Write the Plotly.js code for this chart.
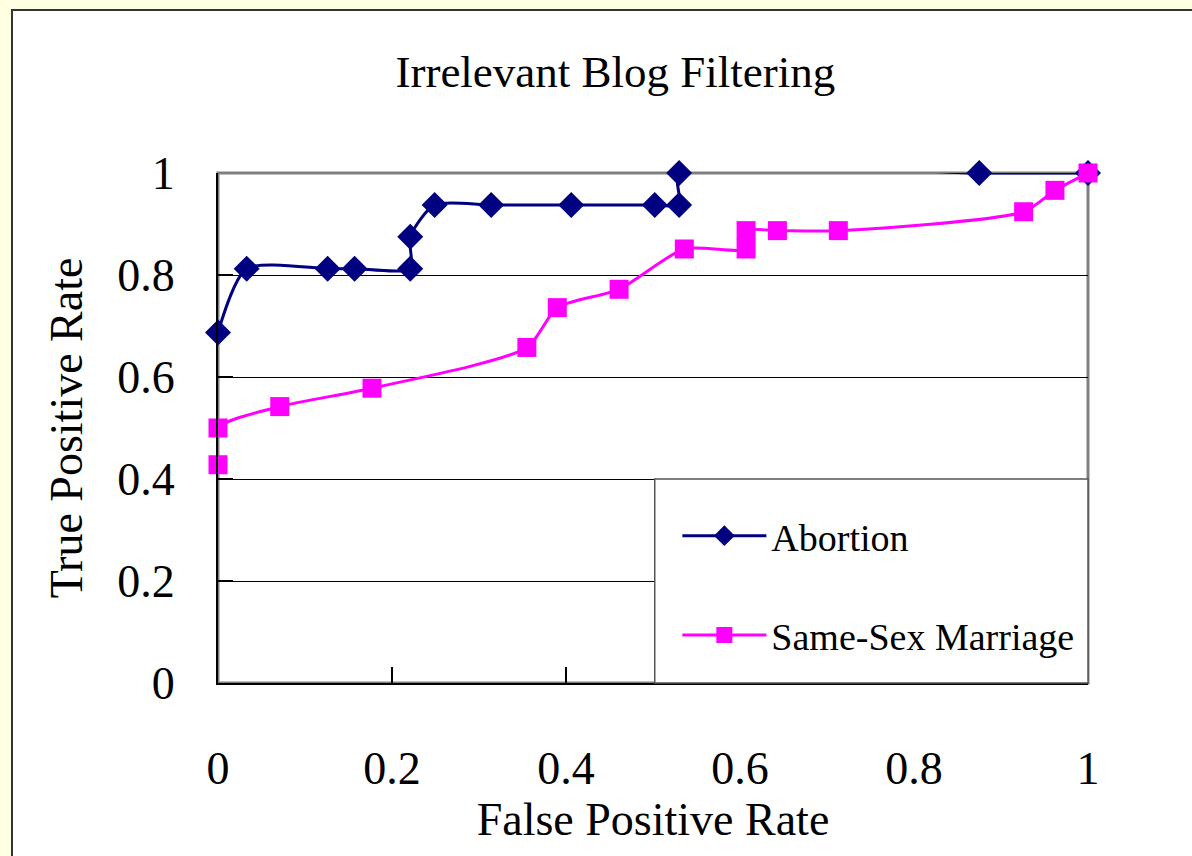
<!DOCTYPE html>
<html>
<head>
<meta charset="utf-8">
<script src="https://cdn.plot.ly/plotly-3.0.1.min.js"></script>
<style>
  html, body { margin: 0; padding: 0; width: 1192px; height: 856px; overflow: hidden; background: #FFFFE1; }
  #frame { position: absolute; left: 11px; top: 9px; border: 2px solid #333333; background: #ffffff; width: 1200px; height: 870px; }
  #chart { width: 1200px; height: 870px; }
</style>
</head>
<body>
<div id="frame"><div id="chart"></div></div>
<script>
// Abortion series (false positive rate, true positive rate)
const abortionFPR = [0, 0.033, 0.126, 0.157, 0.221, 0.221, 0.249, 0.314, 0.406, 0.502, 0.530, 0.530, 0.875, 1.0];
const abortionTPR = [0.6875, 0.8125, 0.8125, 0.8125, 0.8125, 0.875, 0.9375, 0.9375, 0.9375, 0.9375, 0.9375, 1.0, 1.0, 1.0];

// Same-Sex Marriage series
const marriageFPR = [0, 0, 0.071, 0.177, 0.355, 0.390, 0.461, 0.536, 0.607, 0.607, 0.643, 0.713, 0.926, 0.962, 1.0];
const marriageTPR = [0.428, 0.500, 0.542, 0.578, 0.658, 0.736, 0.772, 0.851, 0.851, 0.887, 0.887, 0.887, 0.924, 0.966, 1.0];

const seriesNames = ["Abortion", "Same-Sex Marriage"];
const tickValues = [0, 0.2, 0.4, 0.6, 0.8, 1];
const tickLabels = ["0", "0.2", "0.4", "0.6", "0.8", "1"];

const serif = "'Liberation Serif', 'Times New Roman', serif";

const traces = [
  {
    x: abortionFPR, y: abortionTPR, name: seriesNames[0], type: "scatter", mode: "lines+markers",
    line: { color: "#000080", width: 3, shape: "spline", smoothing: 0.7 },
    marker: { symbol: "diamond", size: 20, color: "#000080" },
    cliponaxis: false, legendgroup: "a"
  },
  {
    x: marriageFPR, y: marriageTPR, name: seriesNames[1], type: "scatter", mode: "lines+markers",
    line: { color: "#FF00FF", width: 3, shape: "spline", smoothing: 0.7 },
    marker: { symbol: "square", size: 19, color: "#FF00FF" },
    cliponaxis: false, legendgroup: "b"
  }
];

const layout = {
  width: 1200, height: 870,
  margin: { l: 205, r: 125, t: 162, b: 198 },
  paper_bgcolor: "#ffffff", plot_bgcolor: "#ffffff",
  font: { family: serif, color: "#000000", size: 46 },
  title: { text: "Irrelevant Blog Filtering", font: { family: serif, size: 45, color: "#000" },
           x: 0.502, xanchor: "center", xref: "container", y: 0.931, yanchor: "middle", yref: "container" },
  xaxis: {
    range: [0, 1], tickvals: tickValues, ticktext: tickLabels,
    ticks: "inside", ticklen: 16, tickwidth: 1.5, tickcolor: "#000",
    showline: true, linecolor: "#000", linewidth: 2, showgrid: false, zeroline: false,
    ticklabelstandoff: 44, tickfont: { family: serif, size: 46, color: "#000" },
    title: { text: "False Positive Rate", font: { family: serif, size: 46, color: "#000" }, standoff: 7 },
    automargin: false, fixedrange: true
  },
  yaxis: {
    range: [0, 1], tickvals: tickValues, ticktext: tickLabels,
    ticks: "inside", ticklen: 15, tickwidth: 1.5, tickcolor: "#000",
    showline: true, linecolor: "#000", linewidth: 2, showgrid: true, gridcolor: "#000", gridwidth: 1, zeroline: false,
    ticklabelstandoff: 32, tickfont: { family: serif, size: 46, color: "#000" },
    title: { text: "True Positive Rate", font: { family: serif, size: 46, color: "#000" }, standoff: 20 },
    automargin: false, fixedrange: true
  },
  shapes: [
    { type: "rect", xref: "paper", yref: "paper", x0: 0, x1: 1, y0: 0, y1: 1, layer: "between",
      line: { color: "#808080", width: 3 }, fillcolor: "rgba(0,0,0,0)" },
    { type: "rect", xref: "paper", yref: "paper", x0: 0.502, x1: 1, y0: 0, y1: 0.4, layer: "above",
      line: { color: "#555555", width: 1.5 }, fillcolor: "#ffffff" }
  ],
  showlegend: true,
  legend: {
    x: 0.528, y: 0.350, xanchor: "left", yanchor: "top", bgcolor: "rgba(0,0,0,0)", borderwidth: 0,
    font: { family: serif, size: 38, color: "#000" }, traceorder: "grouped", tracegroupgap: 47,
    itemwidth: 84
  },
  hovermode: false
};

Plotly.newPlot("chart", traces, layout, { displayModeBar: false, staticPlot: true });
</script>
</body>
</html>
